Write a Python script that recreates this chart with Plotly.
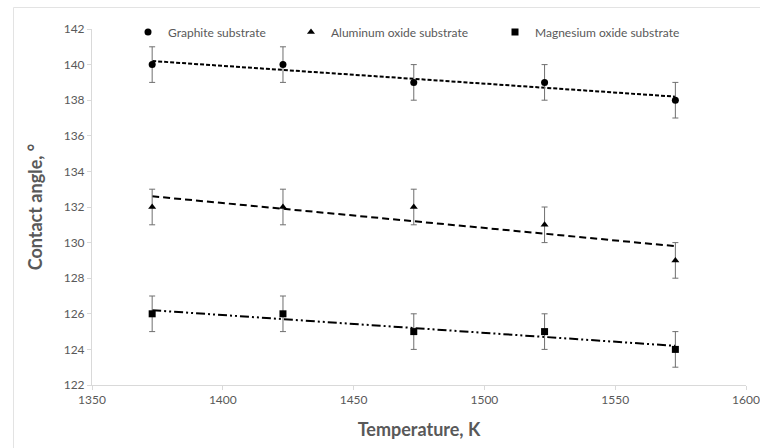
import numpy as np
import plotly.graph_objects as go

temperature_K = [1373, 1423, 1473, 1523, 1573]
graphite = [140, 140, 139, 139, 138]
aluminum_oxide = [132, 132, 132, 131, 129]
magnesium_oxide = [126, 126, 125, 125, 124]
error = [1, 1, 1, 1, 1]

series = [
    ("Graphite substrate", graphite, "circle", 7, "4px,2px", "legend"),
    ("Aluminum oxide substrate", aluminum_oxide, "triangle-up", 7, "7px,4px", "legend2"),
    ("Magnesium oxide substrate", magnesium_oxide, "square", 7, "9px,3px,2px,3px,2px,3px", "legend3"),
]

fig = go.Figure()
x = np.array(temperature_K, dtype=float)
for name, ys, sym, size, dash, leg in series:
    k, b = np.polyfit(x, np.array(ys, dtype=float), 1)
    xt = np.array([x.min(), x.max()])
    fig.add_trace(go.Scatter(x=xt, y=k * xt + b, mode="lines",
                             line=dict(color="black", width=2, dash=dash),
                             showlegend=False, hoverinfo="skip"))
for name, ys, sym, size, dash, leg in series:
    fig.add_trace(go.Scatter(
        x=temperature_K, y=ys, mode="markers", name=name, legend=leg,
        marker=dict(symbol=sym, size=size, color="black"),
        error_y=dict(type="data", array=error, visible=True,
                     color="#6f6f6f", thickness=1, width=3),
    ))

font = "Lato, 'Liberation Sans', sans-serif"
grey = "#595959"
axis_common = dict(showgrid=False, zeroline=False, showline=True,
                   linecolor="#d9d9d9", linewidth=1, ticks="outside",
                   ticklen=4, tickcolor="#d9d9d9", automargin=False,
                   ticklabeloverflow="allow",
                   tickfont=dict(family=font, size=12, color=grey))

leg_common = dict(orientation="h", yanchor="middle", y=0.9916, xanchor="left",
                  bgcolor="rgba(0,0,0,0)", borderwidth=0,
                  font=dict(family=font, size=12, color=grey))
pw = 654.0
ph = 356.0
top_y = (385 - 7.5) / ph
left_x = (13.5 - 92) / pw
fig.update_layout(
    width=760, height=448,
    margin=dict(l=92, r=14, t=29, b=63),
    paper_bgcolor="white", plot_bgcolor="white",
    legend=dict(leg_common, x=(128 - 92) / pw),
    legend2=dict(leg_common, x=(291 - 92) / pw),
    legend3=dict(leg_common, x=(495 - 92) / pw),
    xaxis=dict(axis_common, range=[1350, 1600], dtick=50,
               title=dict(text="Temperature, K", standoff=16,
                          font=dict(family=font, size=18, color=grey, weight="bold"))),
    yaxis=dict(axis_common, range=[122, 142], dtick=2,
               title=dict(text="Contact angle, °", standoff=16,
                          font=dict(family=font, size=18, color=grey, weight="bold"))),
    shapes=[
        dict(type="line", xref="paper", yref="paper", x0=left_x, x1=1.03,
             y0=top_y, y1=top_y, line=dict(color="#e3e3e3", width=1)),
        dict(type="line", xref="paper", yref="paper", x0=left_x, x1=left_x,
             y0=-0.18, y1=top_y, line=dict(color="#e3e3e3", width=1)),
    ],
)

fig.write_html("out.html", config={"displayModeBar": False},
               post_script="document.body.style.margin='0';document.body.style.overflow='hidden';")
